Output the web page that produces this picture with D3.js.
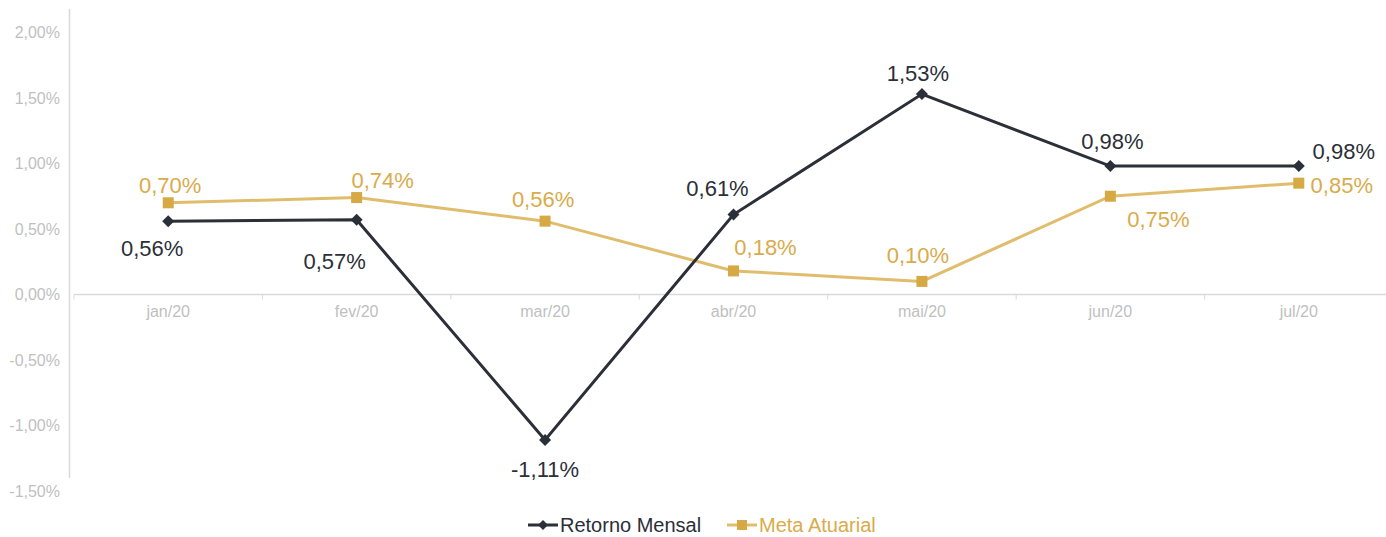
<!DOCTYPE html>
<html>
<head>
<meta charset="utf-8">
<script src="https://cdn.jsdelivr.net/npm/d3@7"></script>
<style>
  body { margin: 0; background: #fff; }
  svg { font-family: "Liberation Sans", Arial, sans-serif; display: block; }
</style>
</head>
<body>
<svg id="chart"></svg>
<script>
const months = ["jan/20", "fev/20", "mar/20", "abr/20", "mai/20", "jun/20", "jul/20"];
const retornoMensal = [0.56, 0.57, -1.11, 0.61, 1.53, 0.98, 0.98];
const metaAtuarial = [0.70, 0.74, 0.56, 0.18, 0.10, 0.75, 0.85];
const yTicks = [-1.5, -1.0, -0.5, 0, 0.5, 1.0, 1.5, 2.0];

// label offsets (dx, dy) from each point, per series
const retornoLabelPos = [[-16, 35], [-22, 49], [0, 37], [-16, -19], [-4, -13], [2, -17], [45, -7]];
const metaLabelPos = [[2, -10], [26, -10], [-2, -14], [32, -16], [-4, -18], [48, 31], [43, 10]];

const width = 1386, height = 537;
const dark = "#2b2f38", goldMark = "#d6a944", goldLine = "#e0bd6c", goldText = "#d9ab4b";
const grey = "#bfbfbf", axisGrey = "#d9d9d9";

const svg = d3.select("#chart").attr("width", width).attr("height", height);

const x = d3.scaleBand().domain(months).range([74, 1393]);
const y = d3.scaleLinear().domain([-1.5, 2.0]).range([491, 32.5]);

const fmt = v => d3.format(".2f")(v).replace(".", ",").replace("\u2212", "-") + "%";

// y axis line and labels
svg.append("line")
  .attr("x1", 69.5).attr("x2", 69.5)
  .attr("y1", 9).attr("y2", 478)
  .attr("stroke", axisGrey).attr("stroke-width", 1.5);

svg.append("g")
  .selectAll("text")
  .data(yTicks)
  .join("text")
  .attr("x", 60)
  .attr("y", d => y(d))
  .attr("dy", "0.35em")
  .attr("text-anchor", "end")
  .attr("fill", grey)
  .style("font-size", "16px")
  .text(fmt);

// x axis along zero
const xAxis = d3.axisBottom(x).tickSize(0).tickPadding(11);
const xAxisGroup = svg.append("g")
  .attr("transform", `translate(0,${y(0)})`)
  .call(xAxis);
xAxisGroup.select(".domain").attr("stroke", axisGrey).attr("stroke-width", 1.5)
  .attr("d", `M74,0H${width}`);
xAxisGroup.selectAll("text").attr("fill", grey).style("font-size", "16px")
  .style("font-family", "'Liberation Sans', Arial, sans-serif");

// category boundary ticks
svg.append("g")
  .selectAll("line")
  .data(months)
  .join("line")
  .attr("x1", d => x(d)).attr("x2", d => x(d))
  .attr("y1", y(0)).attr("y2", y(0) + 5)
  .attr("stroke", axisGrey).attr("stroke-width", 1);

const cx = d => x(d) + x.bandwidth() / 2;

const line = d3.line()
  .x((d, i) => cx(months[i]))
  .y(d => y(d));

// Meta Atuarial
svg.append("path")
  .datum(metaAtuarial)
  .attr("fill", "none")
  .attr("stroke", goldLine)
  .attr("stroke-width", 3)
  .attr("d", line);

svg.append("g")
  .selectAll("rect")
  .data(metaAtuarial)
  .join("rect")
  .attr("x", (d, i) => cx(months[i]) - 5.5)
  .attr("y", d => y(d) - 5.5)
  .attr("width", 11).attr("height", 11)
  .attr("fill", goldMark);

// Retorno Mensal
svg.append("path")
  .datum(retornoMensal)
  .attr("fill", "none")
  .attr("stroke", dark)
  .attr("stroke-width", 3)
  .attr("d", line);

svg.append("g")
  .selectAll("path")
  .data(retornoMensal)
  .join("path")
  .attr("transform", (d, i) => `translate(${cx(months[i])},${y(d)}) rotate(45)`)
  .attr("d", d3.symbol().type(d3.symbolSquare).size(72))
  .attr("fill", dark);

// data labels
svg.append("g")
  .selectAll("text")
  .data(metaAtuarial)
  .join("text")
  .attr("x", (d, i) => cx(months[i]) + metaLabelPos[i][0])
  .attr("y", (d, i) => y(d) + metaLabelPos[i][1])
  .attr("text-anchor", "middle")
  .attr("fill", goldText)
  .style("font-size", "22px")
  .text(fmt);

svg.append("g")
  .selectAll("text")
  .data(retornoMensal)
  .join("text")
  .attr("x", (d, i) => cx(months[i]) + retornoLabelPos[i][0])
  .attr("y", (d, i) => y(d) + retornoLabelPos[i][1])
  .attr("text-anchor", "middle")
  .attr("fill", dark)
  .style("font-size", "22px")
  .text(fmt);

// legend
const legend = svg.append("g").attr("transform", "translate(0,525)");
const items = [
  { name: "Retorno Mensal", color: dark, textColor: dark, marker: "diamond", x0: 528 },
  { name: "Meta Atuarial", color: goldLine, textColor: goldText, marker: "square", x0: 727 }
];
items.forEach(it => {
  legend.append("line")
    .attr("x1", it.x0).attr("x2", it.x0 + 30)
    .attr("y1", 0).attr("y2", 0)
    .attr("stroke", it.color).attr("stroke-width", 3);
  if (it.marker === "diamond") {
    legend.append("path")
      .attr("transform", `translate(${it.x0 + 15},0) rotate(45)`)
      .attr("d", d3.symbol().type(d3.symbolSquare).size(50))
      .attr("fill", dark);
  } else {
    legend.append("rect")
      .attr("x", it.x0 + 10).attr("y", -5)
      .attr("width", 10).attr("height", 10)
      .attr("fill", goldMark);
  }
  legend.append("text")
    .attr("x", it.x0 + 32)
    .attr("y", 0)
    .attr("dy", "0.35em")
    .attr("fill", it.textColor)
    .style("font-size", "20px")
    .text(it.name);
});
</script>
</body>
</html>
